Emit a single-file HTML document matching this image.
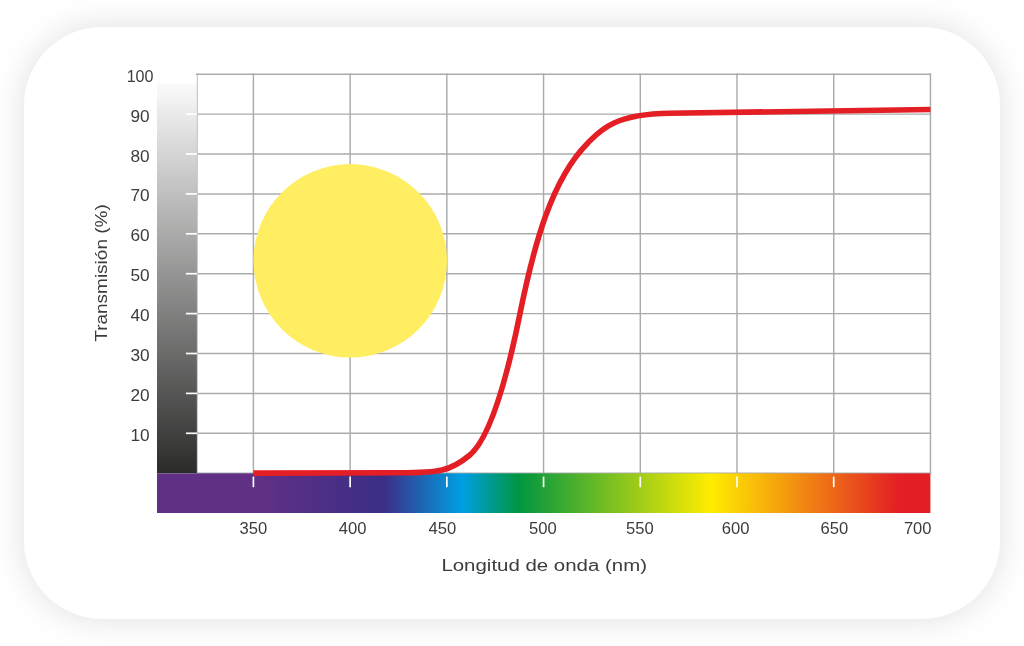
<!DOCTYPE html>
<html lang="es"><head><meta charset="utf-8"><title>Transmisión</title>
<style>
html,body{margin:0;padding:0;background:#fff;}
body{width:1024px;height:646px;overflow:hidden;position:relative;font-family:"Liberation Sans",sans-serif;}
.card{position:absolute;left:24px;top:26.5px;width:976px;height:592px;border-radius:78px;background:#fff;box-shadow:0 0 34px rgba(0,0,0,0.128);}
svg{position:absolute;left:0;top:0;}
text{font-family:"Liberation Sans",sans-serif;fill:#3c3c3b;}
</style></head><body>
<div class="card"></div>
<svg width="1024" height="646" viewBox="0 0 1024 646">
<defs>
<linearGradient id="gr" x1="0" y1="0" x2="0" y2="1"><stop offset="0" stop-color="#fafafa"/><stop offset="1" stop-color="#2b2b2a"/></linearGradient>
<linearGradient id="gr2" x1="0" y1="0" x2="0" y2="1"><stop offset="0" stop-color="#ffffff"/><stop offset="0.0223" stop-color="#ffffff"/><stop offset="0.0223" stop-color="#fafafa"/><stop offset="1" stop-color="#2b2b2a"/></linearGradient>
<linearGradient id="sp" gradientUnits="userSpaceOnUse" x1="157" y1="0" x2="930.4" y2="0">
<stop offset="0.0000" stop-color="#5f3085"/>
<stop offset="0.1332" stop-color="#5f3085"/>
<stop offset="0.2935" stop-color="#3b2e86"/>
<stop offset="0.3944" stop-color="#009fe3"/>
<stop offset="0.4681" stop-color="#009640"/>
<stop offset="0.7163" stop-color="#ffed00"/>
<stop offset="0.9594" stop-color="#e31e24"/>
<stop offset="1.0000" stop-color="#e31e24"/>
</linearGradient></defs>
<g stroke="#aaacab" stroke-width="1.45" fill="none">
<line x1="196.90" y1="73.60" x2="196.90" y2="473.20"/>
<line x1="253.40" y1="73.60" x2="253.40" y2="473.20"/>
<line x1="350.12" y1="73.60" x2="350.12" y2="473.20"/>
<line x1="446.84" y1="73.60" x2="446.84" y2="473.20"/>
<line x1="543.56" y1="73.60" x2="543.56" y2="473.20"/>
<line x1="640.28" y1="73.60" x2="640.28" y2="473.20"/>
<line x1="737.00" y1="73.60" x2="737.00" y2="473.20"/>
<line x1="833.72" y1="73.60" x2="833.72" y2="473.20"/>
<line x1="930.44" y1="73.60" x2="930.44" y2="473.20"/>
<line x1="196.20" y1="74.20" x2="931.14" y2="74.20"/>
<line x1="196.20" y1="114.10" x2="931.14" y2="114.10"/>
<line x1="196.20" y1="154.00" x2="931.14" y2="154.00"/>
<line x1="196.20" y1="193.90" x2="931.14" y2="193.90"/>
<line x1="196.20" y1="233.80" x2="931.14" y2="233.80"/>
<line x1="196.20" y1="273.70" x2="931.14" y2="273.70"/>
<line x1="196.20" y1="313.60" x2="931.14" y2="313.60"/>
<line x1="196.20" y1="353.50" x2="931.14" y2="353.50"/>
<line x1="196.20" y1="393.40" x2="931.14" y2="393.40"/>
<line x1="196.20" y1="433.30" x2="931.14" y2="433.30"/>
<line x1="196.20" y1="473.20" x2="931.14" y2="473.20"/>
</g>
<rect x="157" y="83.9" width="39.2" height="389.5" fill="url(#gr)"/><rect x="196.1" y="75" width="0.8" height="398.4" fill="url(#gr2)"/>
<g stroke="#ffffff" stroke-width="1.7">
<line x1="185.9" y1="114.10" x2="197.2" y2="114.10"/>
<line x1="185.9" y1="154.00" x2="197.2" y2="154.00"/>
<line x1="185.9" y1="193.90" x2="197.2" y2="193.90"/>
<line x1="185.9" y1="233.80" x2="197.2" y2="233.80"/>
<line x1="185.9" y1="273.70" x2="197.2" y2="273.70"/>
<line x1="185.9" y1="313.60" x2="197.2" y2="313.60"/>
<line x1="185.9" y1="353.50" x2="197.2" y2="353.50"/>
<line x1="185.9" y1="393.40" x2="197.2" y2="393.40"/>
<line x1="185.9" y1="433.30" x2="197.2" y2="433.30"/>
</g>
<circle cx="350.25" cy="260.85" r="96.75" fill="#ffee62"/>
<rect x="157" y="473.4" width="773.4" height="39.6" fill="url(#sp)"/>
<g stroke="#ffffff" stroke-width="1.7">
<line x1="253.40" y1="476.6" x2="253.40" y2="487.2"/>
<line x1="350.12" y1="476.6" x2="350.12" y2="487.2"/>
<line x1="446.84" y1="476.6" x2="446.84" y2="487.2"/>
<line x1="543.56" y1="476.6" x2="543.56" y2="487.2"/>
<line x1="640.28" y1="476.6" x2="640.28" y2="487.2"/>
<line x1="737.00" y1="476.6" x2="737.00" y2="487.2"/>
<line x1="833.72" y1="476.6" x2="833.72" y2="487.2"/>
</g>
<path d="M253.40 473.10 L400.00 472.80 C438.93 472.72 450.18 471.29 469.62 455.22 C493.80 435.22 511.68 354.70 519.99 313.59 C533.77 245.50 551.60 179.04 587.87 142.92 C599.49 131.35 612.57 114.13 669.40 113.30 L930.40 109.50" fill="none" stroke="#e31e24" stroke-width="5.6" stroke-linejoin="round"/>
<text x="140.1" y="81.75" font-size="15.6" text-anchor="middle" textLength="26.9" lengthAdjust="spacingAndGlyphs">100</text>
<text x="140.1" y="121.65" font-size="15.6" text-anchor="middle" textLength="19.2" lengthAdjust="spacingAndGlyphs">90</text>
<text x="140.1" y="161.55" font-size="15.6" text-anchor="middle" textLength="19.2" lengthAdjust="spacingAndGlyphs">80</text>
<text x="140.1" y="201.45" font-size="15.6" text-anchor="middle" textLength="19.2" lengthAdjust="spacingAndGlyphs">70</text>
<text x="140.1" y="241.35" font-size="15.6" text-anchor="middle" textLength="19.2" lengthAdjust="spacingAndGlyphs">60</text>
<text x="140.1" y="281.25" font-size="15.6" text-anchor="middle" textLength="19.2" lengthAdjust="spacingAndGlyphs">50</text>
<text x="140.1" y="321.15" font-size="15.6" text-anchor="middle" textLength="19.2" lengthAdjust="spacingAndGlyphs">40</text>
<text x="140.1" y="361.05" font-size="15.6" text-anchor="middle" textLength="19.2" lengthAdjust="spacingAndGlyphs">30</text>
<text x="140.1" y="400.95" font-size="15.6" text-anchor="middle" textLength="19.2" lengthAdjust="spacingAndGlyphs">20</text>
<text x="140.1" y="440.85" font-size="15.6" text-anchor="middle" textLength="19.2" lengthAdjust="spacingAndGlyphs">10</text>
<text x="253.30" y="533.6" font-size="15.6" text-anchor="middle" textLength="27.7" lengthAdjust="spacingAndGlyphs">350</text>
<text x="352.70" y="533.6" font-size="15.6" text-anchor="middle" textLength="27.7" lengthAdjust="spacingAndGlyphs">400</text>
<text x="442.40" y="533.6" font-size="15.6" text-anchor="middle" textLength="27.7" lengthAdjust="spacingAndGlyphs">450</text>
<text x="542.80" y="533.6" font-size="15.6" text-anchor="middle" textLength="27.7" lengthAdjust="spacingAndGlyphs">500</text>
<text x="639.90" y="533.6" font-size="15.6" text-anchor="middle" textLength="27.7" lengthAdjust="spacingAndGlyphs">550</text>
<text x="735.60" y="533.6" font-size="15.6" text-anchor="middle" textLength="27.7" lengthAdjust="spacingAndGlyphs">600</text>
<text x="834.30" y="533.6" font-size="15.6" text-anchor="middle" textLength="27.7" lengthAdjust="spacingAndGlyphs">650</text>
<text x="931.5" y="533.6" font-size="15.6" text-anchor="end" textLength="27.6" lengthAdjust="spacingAndGlyphs">700</text>
<text x="544.2" y="571.3" font-size="17.3" text-anchor="middle" textLength="205.6" lengthAdjust="spacingAndGlyphs">Longitud de onda (nm)</text>
<text transform="translate(107.0 273) rotate(-90)" font-size="17.3" text-anchor="middle" textLength="137.5" lengthAdjust="spacingAndGlyphs">Transmisión (%)</text>
</svg></body></html>
